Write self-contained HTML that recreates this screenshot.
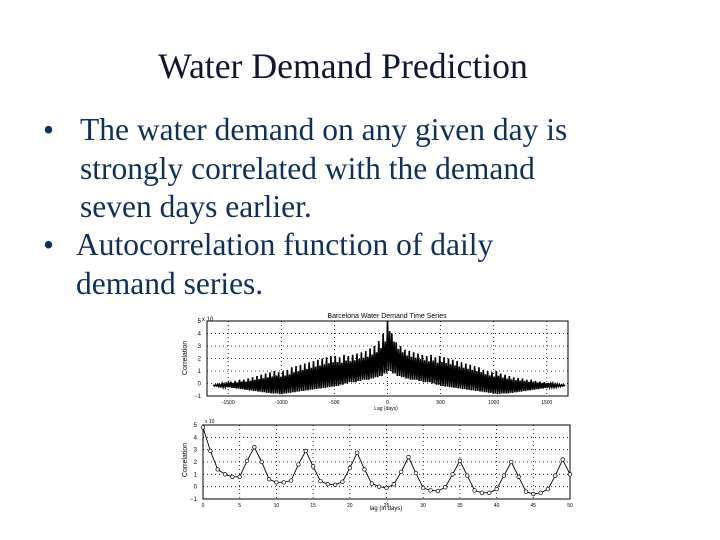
<!DOCTYPE html>
<html><head><meta charset="utf-8"><style>
body{margin:0;width:720px;height:540px;background:#fff;overflow:hidden;position:relative;font-family:"Liberation Serif",serif;color:#10305a}
.t{position:absolute;white-space:nowrap}
#title{left:0;width:686px;text-align:center;top:45px;font-size:35.7px;color:#101830}
.b{font-size:31.5px}
.d{font-size:31.5px}
svg{position:absolute;left:0;top:0}
svg text{font-family:"Liberation Sans",sans-serif;fill:#000}
</style></head><body>
<div class="t" id="title">Water Demand Prediction</div>
<div class="t d" style="left:43px;top:112px">•</div>
<div class="t b" style="left:80px;top:112px">The water demand on any given day is</div>
<div class="t b" style="left:80px;top:151px">strongly correlated with the demand</div>
<div class="t b" style="left:80px;top:189px">seven days earlier.</div>
<div class="t d" style="left:43px;top:227px">•</div>
<div class="t b" style="left:76px;top:227px">Autocorrelation function of daily</div>
<div class="t b" style="left:76px;top:266px">demand series.</div>
<svg width="720" height="540" id="svg"></svg>
<script>
const topHi=[-0.1,-0.05,0,0.1,0.15,0.2,0.3,0.3,0.4,0.5,0.6,0.7,0.8,0.9,1.0,0.9,1.0,1.1,1.3,1.4,1.5,1.6,1.7,1.8,1.9,2.0,2.1,2.2,2.2,2.1,2.3,2.2,2.3,2.4,2.5,2.6,2.8,3.0,3.4,4.0,5.0,4.0,3.3,3.0,2.7,2.6,2.5,2.4,2.3,2.2,2.3,2.1,2.2,2.1,2.0,1.9,1.8,1.7,1.6,1.5,1.4,1.3,1.1,1.0,0.9,1.0,0.8,0.7,0.6,0.5,0.45,0.4,0.3,0.3,0.2,0.15,0.1,0.05,0,-0.05,-0.1];
const topLo=[-0.2,-0.25,-0.3,-0.3,-0.35,-0.4,-0.45,-0.5,-0.55,-0.6,-0.65,-0.7,-0.75,-0.8,-0.8,-0.85,-0.8,-0.75,-0.7,-0.65,-0.6,-0.55,-0.5,-0.45,-0.4,-0.35,-0.3,-0.25,-0.2,-0.1,0,0.1,0.1,0.2,0.3,0.3,0.4,0.5,0.6,0.8,1.0,0.8,0.6,0.5,0.4,0.3,0.3,0.2,0.1,0.1,0,-0.1,-0.2,-0.25,-0.3,-0.35,-0.4,-0.45,-0.5,-0.55,-0.6,-0.65,-0.7,-0.75,-0.8,-0.85,-0.8,-0.8,-0.75,-0.7,-0.65,-0.6,-0.55,-0.5,-0.45,-0.4,-0.35,-0.3,-0.3,-0.25,-0.2];
const topXTicks=[-1500,-1000,-500,0,500,1000,1500];
const yTicks=[-1,0,1,2,3,4,5];
const acf=[4.8,2.9,1.4,1.0,0.8,0.8,2.1,3.2,2.0,0.6,0.35,0.35,0.5,1.8,2.9,1.65,0.45,0.2,0.15,0.4,1.5,2.75,1.4,0.25,0.0,-0.1,0.2,1.2,2.4,1.1,-0.1,-0.3,-0.35,-0.05,1.0,2.1,0.9,-0.3,-0.5,-0.5,-0.2,0.9,2.0,0.8,-0.4,-0.6,-0.5,-0.2,0.9,2.2,1.0];
const botXTicks=[0,5,10,15,20,25,30,35,40,45,50];
const NS='http://www.w3.org/2000/svg',svg=document.getElementById('svg');
function mk(t,a,p){const e=document.createElementNS(NS,t);for(const k in a)e.setAttribute(k,a[k]);(p||svg).appendChild(e);return e;}
function frame(L,R,T,B,xt,xs,ys,nm){
 const g=mk('g',{});
 
 
 mk('rect',{x:L,y:T,width:R-L,height:B-T,fill:'none',stroke:'#000','stroke-width':1},g);
 yTicks.forEach(v=>{const y=ys(v);if(v>-1&&v<5)mk('line',{x1:L,x2:R,y1:y,y2:y,stroke:'#000','stroke-dasharray':'1,3','stroke-width':0.8},g);
  const t=mk('text',{x:L-6,y:y+2,'font-size':6,'text-anchor':'end'},g);t.textContent=v===-1?'−1':v;});
 xt.forEach((v,i)=>{const x=xs(v);if(x>L+1&&x<R-1)mk('line',{x1:x,x2:x,y1:T,y2:B,stroke:'#000','stroke-dasharray':'1,3','stroke-width':0.8},g);
  const t=mk('text',{x:x,y:B+8,'font-size':5,'text-anchor':'middle'},g);t.textContent=v;});
 return g;}
// top chart
const tL=207,tR=568,tT=321,tB=396;
const txs=v=>tL+(v+1700)/3400*(tR-tL), tys=v=>tB-(v+1)/6*(tB-tT);
const g1=frame(tL,tR,tT,tB,topXTicks,txs,tys,'cross-correlation-chart');
let pts=[];const n=topHi.length;
for(let i=0;i<n;i++){const lag=-1640+i*3280/(n-1);const h=3280/(n-1)*0.5;
 pts.push([txs(lag),tys(topHi[i])],[txs(lag+h*0.5),tys(topLo[i])],[txs(lag+h),tys((topHi[i]+topLo[i])/2+(topHi[i]-topLo[i])*0.3)],[txs(lag+h*1.5),tys(topLo[i])]);}
const pl=mk('polyline',{points:pts.map(p=>p.join(',')).join(' '),fill:'none',stroke:'#000','stroke-width':1.6},g1);


let t=mk('text',{x:387,y:318,'font-size':7,'text-anchor':'middle'});t.textContent='Barcelona Water Demand Time Series';
t=mk('text',{x:202,y:321,'font-size':6});t.textContent='x 10';
t=mk('text',{x:386,y:410,'font-size':5,'text-anchor':'middle'});t.textContent='Lag (days)';
t=mk('text',{x:187,y:358,'font-size':7,'text-anchor':'middle',transform:'rotate(-90 187 358)'});t.textContent='Correlation';
// bottom chart
const bL=203,bR=570,bT=425,bB=499;
const bxs=v=>bL+v/50*(bR-bL), bys=v=>bB-(v+1)/6*(bB-bT);
const g2=frame(bL,bR,bT,bB,botXTicks,bxs,bys,'autocorrelation-chart');
const ap=mk('polyline',{points:acf.map((v,i)=>bxs(i)+','+bys(v)).join(' '),fill:'none',stroke:'#000','stroke-width':0.9},g2);


acf.forEach((v,i)=>{const c=mk('circle',{cx:bxs(i),cy:bys(v),r:1.8,fill:'#fff',stroke:'#000','stroke-width':0.7},g2);
 
 });
t=mk('text',{x:205,y:423,'font-size':5});t.textContent='x 10';
t=mk('text',{x:386,y:510,'font-size':6,'text-anchor':'middle'});t.textContent='lag (in days)';
t=mk('text',{x:187,y:460,'font-size':7,'text-anchor':'middle',transform:'rotate(-90 187 460)'});t.textContent='Correlation';
</script>
</body></html>
